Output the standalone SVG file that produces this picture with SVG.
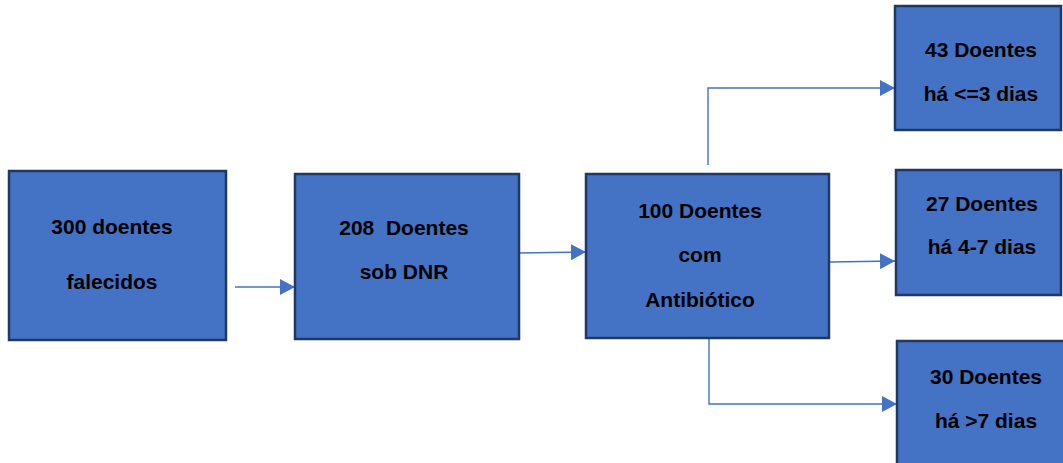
<svg xmlns="http://www.w3.org/2000/svg" width="1063" height="463" viewBox="0 0 1063 463">
  <style>
    .box { fill: #4472C4; stroke: #1F3864; stroke-width: 2.5; }
    .lbl { font-family: "Liberation Sans", Arial, sans-serif; font-weight: bold; font-size: 21px; fill: #000; text-anchor: middle; }
    .wire { fill: none; stroke: #4472C4; stroke-width: 1.4; }
  </style>
  <defs>
    <marker id="arrow" markerUnits="userSpaceOnUse" markerWidth="17" markerHeight="17" refX="15" refY="8" orient="auto">
      <path d="M0,0 L15,8 L0,16 Z" fill="#4472C4"/>
    </marker>
  </defs>
  <rect width="1063" height="463" fill="#fff"/>

  <g id="connectors">
    <path class="wire" d="M235,287 L295,287" marker-end="url(#arrow)"/>
    <path class="wire" d="M519,253 L586,252" marker-end="url(#arrow)"/>
    <path class="wire" d="M829,262 L895,261" marker-end="url(#arrow)"/>
    <path class="wire" d="M708,165 L708,88 L895,88" marker-end="url(#arrow)"/>
    <path class="wire" d="M709,338 L709,404 L897,404" marker-end="url(#arrow)"/>
  </g>

  <g id="falecidos">
    <rect class="box" x="9" y="171" width="217" height="169"/>
    <text class="lbl" x="112" y="234">300 doentes</text>
    <text class="lbl" x="112" y="289">falecidos</text>
  </g>

  <g id="dnr">
    <rect class="box" x="295" y="174" width="224" height="165"/>
    <text class="lbl" x="404" y="235" xml:space="preserve">208  Doentes</text>
    <text class="lbl" x="404" y="279">sob DNR</text>
  </g>

  <g id="antibiotico">
    <rect class="box" x="586" y="174" width="243" height="164"/>
    <text class="lbl" x="700" y="218">100 Doentes</text>
    <text class="lbl" x="700" y="262">com</text>
    <text class="lbl" x="700" y="307">Antibiótico</text>
  </g>

  <g id="ate3dias">
    <rect class="box" x="895" y="6" width="166" height="124"/>
    <text class="lbl" x="981" y="57">43 Doentes</text>
    <text class="lbl" x="981" y="101">há &lt;=3 dias</text>
  </g>

  <g id="de4a7dias">
    <rect class="box" x="896" y="170" width="165" height="125"/>
    <text class="lbl" x="982" y="211">27 Doentes</text>
    <text class="lbl" x="982" y="254">há 4-7 dias</text>
  </g>

  <g id="mais7dias">
    <rect class="box" x="897" y="341" width="168" height="130"/>
    <text class="lbl" x="986" y="384">30 Doentes</text>
    <text class="lbl" x="986" y="428">há &gt;7 dias</text>
  </g>
</svg>
